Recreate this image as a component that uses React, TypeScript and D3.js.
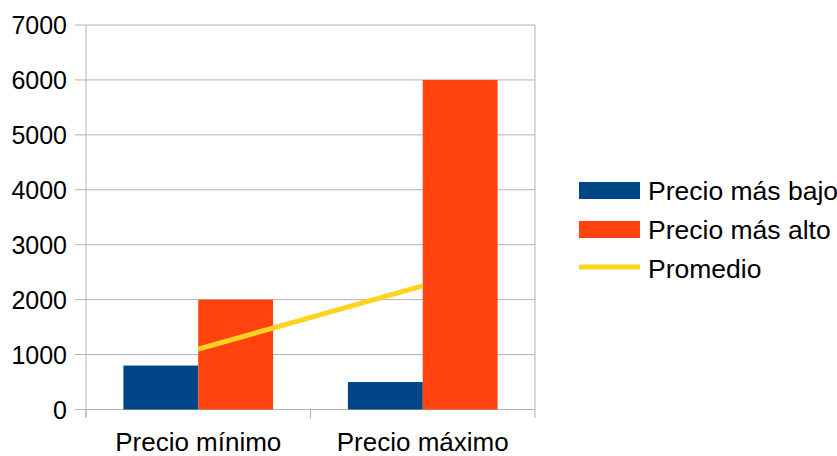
import React from "react";
import * as d3 from "d3";

const categories = ["Precio mínimo", "Precio máximo"];
const seriesNames = ["Precio más bajo", "Precio más alto"];
const lowValues = [800, 500];
const highValues = [2000, 6000];
const lineName = "Promedio";
const lineValues = [1100, 2250];
const yTicks = [0, 1000, 2000, 3000, 4000, 5000, 6000, 7000];
const colors = ["#004586", "#ff420e"];
const lineColor = "#ffd320";

const W = 837, H = 456;
const left = 86, right = 535, top = 25, bottom = 409.5;

export default function App() {
  const y = d3.scaleLinear().domain([0, 7000]).range([bottom, top]);
  const x = d3.scaleBand().domain(categories).range([left, right]).paddingInner(0).paddingOuter(0);
  const inner = d3.scaleBand().domain(seriesNames).range([0, x.bandwidth()]).paddingInner(0).paddingOuter(0.5);
  const barData = [lowValues, highValues];
  const line = d3.line<number>()
    .x((_, i) => (x(categories[i]) as number) + x.bandwidth() / 2)
    .y((d) => y(d));
  const font = "'Liberation Sans', Arial, sans-serif";
  return (
    <svg width={W} height={H} style={{ position: "absolute", left: 0, top: 0 }} fontFamily={font}>
      <rect width={W} height={H} fill="#fff" />
      {yTicks.map((t) => (
        <g key={t}>
          <line x1={75} x2={right} y1={y(t)} y2={y(t)} stroke="#b3b3b3" strokeWidth={1} />
          <text x={67} y={y(t)} dy="0.36em" textAnchor="end" fontSize={25} fill="#000">{t}</text>
        </g>
      ))}
      <line x1={left} x2={left} y1={top} y2={418} stroke="#b3b3b3" strokeWidth={1} />
      <line x1={right} x2={right} y1={top} y2={418} stroke="#b3b3b3" strokeWidth={1} />
      {categories.map((c, i) => (
        <line key={"t" + i} x1={(x(c) as number)} x2={(x(c) as number)} y1={bottom} y2={418} stroke="#b3b3b3" />
      ))}
      {categories.map((c, ci) =>
        seriesNames.map((s, si) => {
          const v = barData[si][ci];
          const bx = (x(c) as number) + (inner(s) as number);
          return <rect key={c + s} x={bx} y={y(v)} width={inner.bandwidth()} height={bottom - y(v)} fill={colors[si]} />;
        })
      )}
      <path d={line(lineValues) || ""} fill="none" stroke={lineColor} strokeWidth={5} />
      {categories.map((c) => (
        <text key={"l" + c} x={(x(c) as number) + x.bandwidth() / 2} y={451} textAnchor="middle" fontSize={26} fill="#000">{c}</text>
      ))}
      {seriesNames.map((s, i) => (
        <g key={"lg" + s}>
          <rect x={579} y={182 + i * 39} width={61} height={17} fill={colors[i]} />
          <text x={648} y={190.5 + i * 39} dy="0.36em" fontSize={26.5} fill="#000">{s}</text>
        </g>
      ))}
      <line x1={579} x2={640} y1={267} y2={267} stroke={lineColor} strokeWidth={5} />
      <text x={648} y={268.5} dy="0.36em" fontSize={26.5} fill="#000">{lineName}</text>
    </svg>
  );
}
